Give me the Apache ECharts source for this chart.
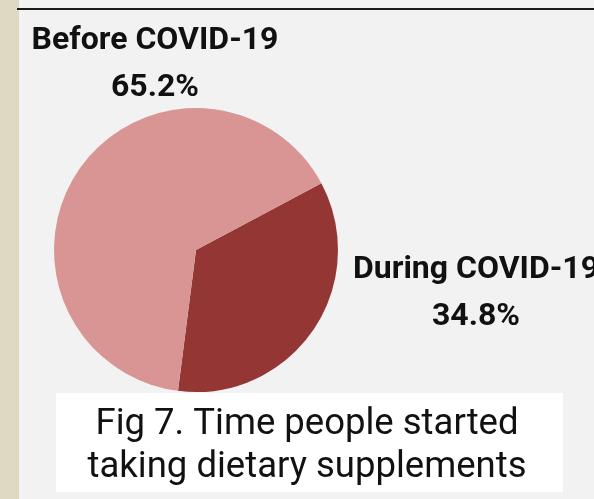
<!DOCTYPE html>
<html>
<head>
<meta charset="utf-8">
<script src="https://cdn.jsdelivr.net/npm/echarts@6/dist/echarts.min.js"></script>
<style>
  html, body { margin: 0; padding: 0; background: #f2f2f2; }
  #chart { width: 594px; height: 499px; }
</style>
</head>
<body>
<div id="chart"></div>
<script>
// Share of respondents by when they began taking supplements
const categories = ['During COVID-19', 'Before COVID-19'];
const shares = [34.8, 65.2];
const sliceColors = ['#943634', '#d99594'];
const captionLines = ['Fig 7. Time people started', 'taking dietary supplements'];

const chart = echarts.init(document.getElementById('chart'), null, { renderer: 'canvas' });

const labelSpots = {
  'Before COVID-19': { x: 155, y: 64 },
  'During COVID-19': { x: 476, y: 293 }
};

chart.setOption({
  backgroundColor: '#f2f2f2',
  animation: false,
  graphic: [
    { type: 'rect', shape: { x: 0, y: 0, width: 19, height: 499 }, style: { fill: '#ddd9c3' }, silent: true },
    { type: 'rect', shape: { x: 17, y: 8, width: 577, height: 2 }, style: { fill: '#1a1a1a' }, silent: true },
    { type: 'rect', shape: { x: 56, y: 393, width: 507, height: 99 }, style: { fill: '#ffffff' }, silent: true, z: 10 },
    {
      type: 'text', z: 11, silent: true,
      style: {
        x: 307, y: 446,
        text: captionLines.join('\n'),
        fill: '#111111',
        font: '400 36.5px Roboto',
        lineHeight: 43,
        align: 'center',
        verticalAlign: 'middle'
      }
    }
  ],
  series: [{
    type: 'pie',
    center: [196, 250],
    radius: [0, 142],
    startAngle: 28,
    clockwise: true,
    avoidLabelOverlap: false,
    data: categories.map((name, i) => ({
      name,
      value: shares[i],
      itemStyle: { color: sliceColors[i] }
    })),
    itemStyle: { borderWidth: 0 },
    label: {
      show: true,
      position: 'outside',
      formatter: '{b}\n{c}%',
      fontFamily: 'Roboto',
      fontWeight: 'bold',
      fontSize: 32,
      lineHeight: 47,
      color: '#111111',
      align: 'center'
    },
    labelLine: { show: false },
    labelLayout: function (params) {
      const spot = labelSpots[categories[params.dataIndex]];
      return { x: spot.x, y: spot.y, align: 'center', verticalAlign: 'middle' };
    }
  }]
});
</script>
</body>
</html>
